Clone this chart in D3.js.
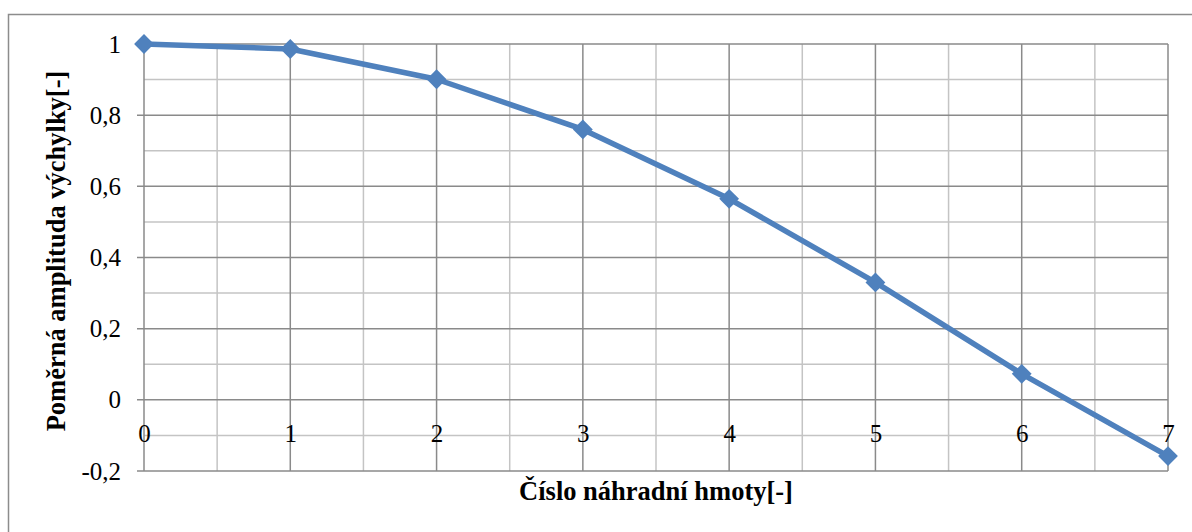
<!DOCTYPE html>
<html>
<head>
<meta charset="utf-8">
<script src="https://cdn.jsdelivr.net/npm/d3@7"></script>
<style>
  html, body { margin: 0; padding: 0; background: #fff; }
  svg { display: block; }
</style>
</head>
<body>
<svg id="chart" width="1192" height="532"></svg>
<script>
// Mass index along the chain and its relative displacement amplitude
const massIndex = [0, 1, 2, 3, 4, 5, 6, 7];
const amplitude = [1.0, 0.986, 0.901, 0.760, 0.565, 0.330, 0.073, -0.158];
const yTickValues = [-0.2, 0, 0.2, 0.4, 0.6, 0.8, 1];
const yTitle = "Poměrná amplituda výchylky[-]";
const xTitle = "Číslo náhradní hmoty[-]";

const FONT = "'Liberation Serif'";
const svg = d3.select("#chart");
const W = 1192, H = 532;
const plot = { left: 144, right: 1168, top: 44, bottom: 471 };

const x = d3.scaleLinear().domain([0, 7]).range([plot.left, plot.right]);
const y = d3.scaleLinear().domain([-0.2, 1]).range([plot.bottom, plot.top]);

// Decimal comma, plain hyphen for negatives
const fmt = v => {
  const r = Math.round(v * 10) / 10;
  if (r === 0) return "0";
  return String(r).replace(".", ",");
};

// Outer chart frame
svg.append("rect")
  .attr("x", 8.5).attr("y", 14.5)
  .attr("width", W + 20).attr("height", H + 20)
  .attr("fill", "#fff").attr("stroke", "#8c8c8c").attr("stroke-width", 1.5);

const grid = svg.append("g");

// Minor gridlines
const yMinor = d3.range(-0.1, 1, 0.2);
const xMinor = d3.range(0.5, 7, 1);
grid.selectAll(".ymin").data(yMinor).join("line")
  .attr("x1", plot.left).attr("x2", plot.right)
  .attr("y1", d => y(d)).attr("y2", d => y(d))
  .attr("stroke", "#c4c4c4").attr("stroke-width", 1.5);
grid.selectAll(".xmin").data(xMinor).join("line")
  .attr("x1", d => x(d)).attr("x2", d => x(d))
  .attr("y1", plot.top).attr("y2", plot.bottom)
  .attr("stroke", "#c4c4c4").attr("stroke-width", 1.5);

// Major gridlines
grid.selectAll(".ymaj").data(yTickValues).join("line")
  .attr("x1", plot.left - 7).attr("x2", plot.right)
  .attr("y1", d => y(d)).attr("y2", d => y(d))
  .attr("stroke", "#8a8a8a").attr("stroke-width", 1.5);
grid.selectAll(".xmaj").data(massIndex).join("line")
  .attr("x1", d => x(d)).attr("x2", d => x(d))
  .attr("y1", plot.top).attr("y2", plot.bottom)
  .attr("stroke", "#8a8a8a").attr("stroke-width", 1.5);

// Y axis labels
const yAxis = d3.axisLeft(y).tickValues(yTickValues).tickFormat(fmt).tickSize(0).tickPadding(23);
const gy = svg.append("g").attr("transform", `translate(${plot.left},0)`).call(yAxis);
gy.attr("font-family", "Liberation Serif").attr("font-size", 25);
gy.select(".domain").remove();
gy.selectAll("text")
  .style("font-family", FONT).style("font-size", "25px").attr("fill", "#000");

// X axis labels, placed just below the zero line
const xAxis = d3.axisBottom(x).tickValues(massIndex).tickFormat(d3.format("d")).tickSize(0).tickPadding(0);
const gx = svg.append("g").attr("transform", `translate(0,${y(0)})`).call(xAxis);
gx.attr("font-family", "Liberation Serif").attr("font-size", 25);
gx.select(".domain").remove();
gx.selectAll("text")
  .attr("dy", null).attr("y", 42)
  .style("font-family", FONT).style("font-size", "25px").attr("fill", "#000");

// Series line
const data = massIndex.map((m, i) => ({ m, a: amplitude[i] }));
svg.append("path")
  .datum(data)
  .attr("d", d3.line().x(d => x(d.m)).y(d => y(d.a)))
  .attr("fill", "none").attr("stroke", "#4f81bd").attr("stroke-width", 5.5)
  .attr("stroke-linejoin", "round");

// Diamond markers
svg.selectAll(".marker").data(data).join("path")
  .attr("d", d3.symbol().type(d3.symbolDiamond2).size(250))
  .attr("transform", d => `translate(${x(d.m)},${y(d.a)})`)
  .attr("fill", "#4f81bd");

// Axis titles
svg.append("text")
  .attr("x", 656).attr("y", 500)
  .attr("text-anchor", "middle")
  .style("font-family", FONT).style("font-weight", "bold").style("font-size", "26.5px")
  .attr("fill", "#000")
  .text(xTitle);

svg.append("text")
  .attr("transform", `translate(65,251) rotate(-90)`)
  .attr("text-anchor", "middle")
  .style("font-family", FONT).style("font-weight", "bold").style("font-size", "26.5px")
  .attr("fill", "#000")
  .text(yTitle);
</script>
</body>
</html>
